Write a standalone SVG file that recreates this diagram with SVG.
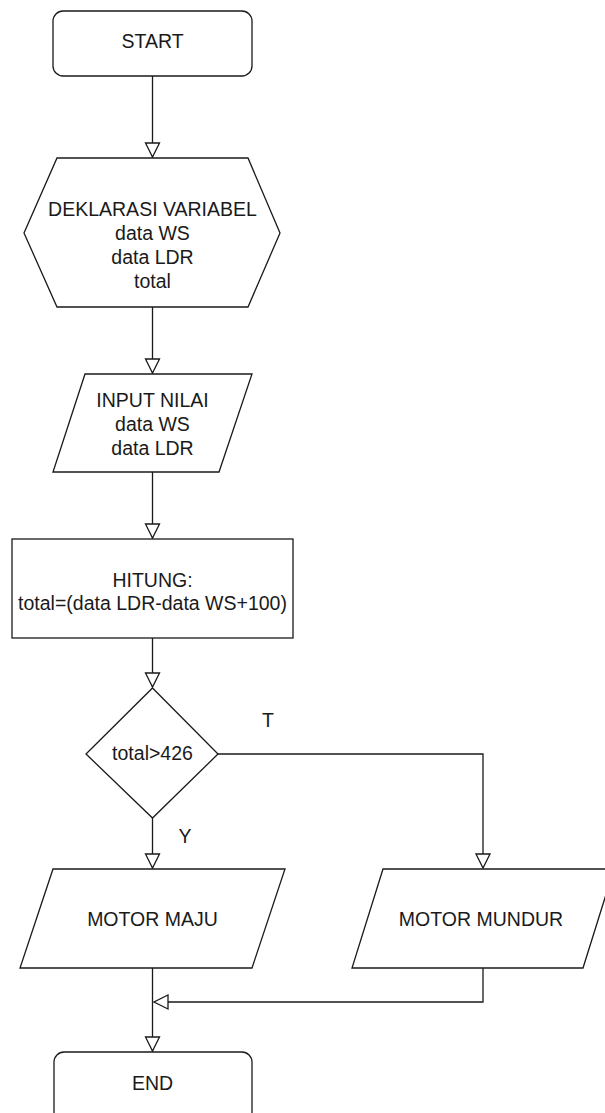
<svg xmlns="http://www.w3.org/2000/svg" width="605" height="1113" viewBox="0 0 605 1113">
<style>
.s{fill:#fff;stroke:#1a1a1a;stroke-width:1.3}
.c{fill:none;stroke:#1a1a1a;stroke-width:1.3}
text{font-family:"Liberation Sans",Arial,Helvetica,sans-serif;font-size:19.5px;fill:#1a1a1a;text-anchor:middle}
</style>
<defs>
<marker id="a" markerUnits="userSpaceOnUse" markerWidth="16" markerHeight="16" refX="14" refY="7" orient="auto" overflow="visible">
<path d="M0,0 L14,7 L0,14 Z" fill="#fff" stroke="#1a1a1a" stroke-width="1.3"/>
</marker>
</defs>
<rect width="605" height="1113" fill="#fff"/>
<g id="connectors">
<path class="c" d="M152.5,76 V157" marker-end="url(#a)"/>
<path class="c" d="M152.5,307 V373" marker-end="url(#a)"/>
<path class="c" d="M152.5,472 V538" marker-end="url(#a)"/>
<path class="c" d="M152.5,638 V687" marker-end="url(#a)"/>
<path class="c" d="M152.5,818 V868" marker-end="url(#a)"/>
<path class="c" d="M218,754 H483 V868" marker-end="url(#a)"/>
<path class="c" d="M152.5,968 V1051" marker-end="url(#a)"/>
<path class="c" d="M483,968 V1002 H154" marker-end="url(#a)"/>
</g>
<g id="start">
<rect class="s" x="53" y="11" width="199" height="65" rx="10"/>
<text x="152.5" y="48">START</text>
</g>
<g id="deklarasi">
<polygon class="s" points="57,158 248,158 280,233 248,307 57,307 24,233"/>
<text x="152.5" y="216">DEKLARASI VARIABEL</text>
<text x="152.5" y="240">data WS</text>
<text x="152.5" y="264">data LDR</text>
<text x="152.5" y="288">total</text>
</g>
<g id="input">
<polygon class="s" points="85,374 252,374 219,472 53,472"/>
<text x="152.5" y="407">INPUT NILAI</text>
<text x="152.5" y="431">data WS</text>
<text x="152.5" y="455">data LDR</text>
</g>
<g id="hitung">
<rect class="s" x="12" y="539" width="281" height="99"/>
<text x="152.5" y="587">HITUNG:</text>
<text x="152.5" y="610">total=(data LDR-data WS+100)</text>
</g>
<g id="decision">
<polygon class="s" points="152.5,688 218,754 152.5,818 86,754"/>
<text x="152.5" y="760">total&gt;426</text>
</g>
<g id="label-t"><text x="268" y="727">T</text></g>
<g id="label-y"><text x="185" y="843">Y</text></g>
<g id="motor-maju">
<polygon class="s" points="53,869 285,869 252,968 20,968"/>
<text x="152.5" y="926">MOTOR MAJU</text>
</g>
<g id="motor-mundur">
<polygon class="s" points="383,869 614,869 583,968 352,968"/>
<text x="481" y="926">MOTOR MUNDUR</text>
</g>
<g id="end">
<rect class="s" x="54" y="1052" width="198" height="70" rx="10"/>
<text x="152.5" y="1090">END</text>
</g>
</svg>
